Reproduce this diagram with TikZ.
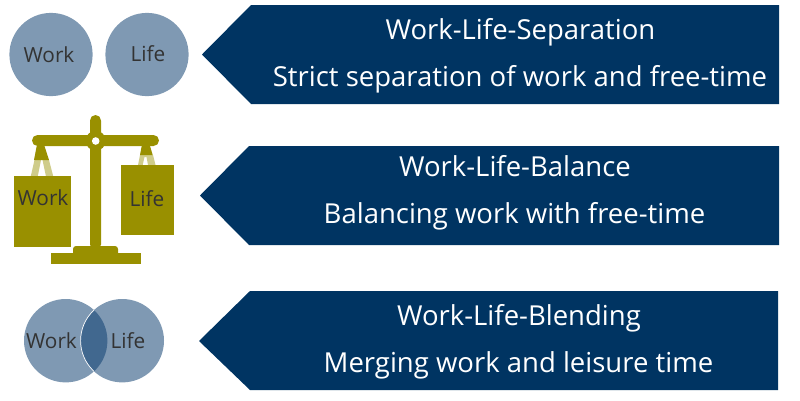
\documentclass[tikz,border=0pt]{standalone}
\usepackage{fontspec}
\setmainfont{Open Sans}
\definecolor{navy}{HTML}{003462}
\definecolor{steel}{HTML}{7F99B3}
\definecolor{overlap}{HTML}{41688F}
\definecolor{olive}{HTML}{999000}
\definecolor{strap}{HTML}{CFCC8A}
\definecolor{ink}{HTML}{333333}
\tikzset{x=1pt,y=-1pt,
  banner/.style={fill=navy,draw=none},
  head/.style={text=white,font=\fontsize{27.5}{28}\selectfont,anchor=center,inner sep=0pt},
  disc/.style={fill=steel,draw=none},
  tag/.style={text=ink,font=\fontsize{20.8}{21}\selectfont,anchor=center,inner sep=0pt},
  metal/.style={fill=olive,draw=none},
  band/.style={fill=strap,draw=none}}
\begin{document}
\begin{tikzpicture}
\useasboundingbox (0,0) rectangle (800,400);
% banners
\fill[banner] (202,54.5) -- (251,5) -- (779,5) -- (779,104) -- (251,104) -- cycle;
\fill[banner] (200,195.5) -- (249,146) -- (779,146) -- (779,245) -- (249,245) -- cycle;
\fill[banner] (199,341) -- (250,291) -- (778,291) -- (778,390) -- (250,390) -- cycle;
\node[head] (t1a) at (520.5,32) {Work-Life-Separation};
\node[head] (t1b) at (520,79.5) {Strict separation of work and free-time};
\node[head] (t2a) at (515,166.5) {Work-Life-Balance};
\node[head] (t2b) at (514.5,216) {Balancing work with free-time};
\node[head] (t3a) at (519,318) {Work-Life-Blending};
\node[head] (t3b) at (518.5,365) {Merging work and leisure time};
% separation circles
\fill[disc] (51,54.5) circle (41.6);
\fill[disc] (147,54.5) circle (41.6);
\node[tag] (w1) at (49,55) {Work};
\node[tag] (l1) at (148,54) {Life};
% scales
\fill[band] (34.5,160) -- (30.7,176.5) -- (37.7,176.5) -- (41,160) -- cycle;
\fill[band] (42.5,160) -- (46,176.5) -- (53.3,176.5) -- (49,160) -- cycle;
\fill[metal] (36.7,146) -- (44.5,146) -- (49,160) -- (34,160) -- cycle;
\fill[band] (140,155) -- (138,165) -- (142.7,165) -- (144.5,157) -- (146.5,157) -- (148,165) -- (155.5,165) -- (153,155) -- cycle;
\fill[metal] (141.7,146) -- (150,146) -- (152.7,155) -- (140,155) -- cycle;
\fill[metal] (14.3,176.3) rectangle (71,246.7);
\fill[metal] (120.7,164.7) rectangle (174.3,235);
\fill[metal,rounded corners=5.5pt] (32,135) rectangle (159,146);
\fill[metal,rounded corners=5.5pt] (90,115) rectangle (101,250);
\fill[metal] (95.7,140.7) circle (10);
\fill[metal,rounded corners=3pt] (73,246) rectangle (118,256);
\fill[metal] (51,253) rectangle (141,264);
\fill[white] (95.7,141) circle (3.8);
\node[tag] (w2) at (43,198) {Work};
\node[tag] (l2) at (147,198.5) {Life};
% blending circles
\fill[disc] (65.7,340.7) circle (41.7);
\fill[disc] (122.3,340.7) circle (41.7);
\begin{scope}
\clip (65.7,340.7) circle (41.7);
\fill[overlap] (122.3,340.7) circle (41.7);
\draw[white,line width=0.7pt] (122.3,340.7) circle (41.7);
\end{scope}
\node[tag] (w3) at (51.5,341) {Work};
\node[tag] (l3) at (128,341) {Life};
\end{tikzpicture}
\end{document}
